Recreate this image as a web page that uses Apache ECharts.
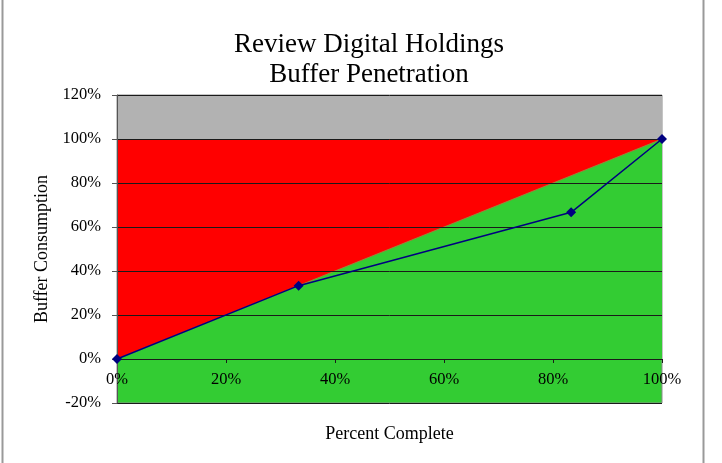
<!DOCTYPE html>
<html>
<head>
<meta charset="utf-8">
<script src="https://cdn.jsdelivr.net/npm/echarts@6/dist/echarts.min.js"></script>
<style>
  html, body { margin: 0; padding: 0; background: #fff; }
  #chart { width: 722px; height: 463px; }
</style>
</head>
<body>
<div id="chart"></div>
<script>
// data
const pctComplete = [0, 33.33, 83.33, 100];
const bufferUsed = [0, 33.33, 66.67, 100];
const diagX = [0, 100];
const diagY = [0, 100];
const capY = [100, 100];
const yTicks = [-20, 0, 20, 40, 60, 80, 100, 120];
const xTicks = [0, 20, 40, 60, 80, 100];

const serif = 'Liberation Serif';
const chart = echarts.init(document.getElementById('chart'));

const zip = (xs, ys) => xs.map((x, i) => [x, ys[i]]);

chart.setOption({
  animation: false,
  title: {
    text: 'Review Digital Holdings\nBuffer Penetration',
    left: 364, top: 25, textAlign: 'center',
    textStyle: { fontFamily: serif, fontSize: 27, fontWeight: 'normal', color: '#000', lineHeight: 30 }
  },
  grid: {
    left: 117, right: 60, top: 95, bottom: 60,
    containLabel: false, outerBoundsMode: 'none',
    show: true, backgroundColor: '#33cc33', borderColor: '#8c8c8c', borderWidth: 1
  },
  xAxis: {
    type: 'value', min: xTicks[0], max: xTicks[xTicks.length - 1], interval: 20,
    position: 'bottom', offset: -44,
    name: 'Percent Complete', nameLocation: 'middle', nameGap: 66,
    nameTextStyle: { fontFamily: serif, fontSize: 18, color: '#000' },
    axisLine: { onZero: false, lineStyle: { color: '#1a1a1a' } },
    axisTick: { show: true, length: 4, lineStyle: { color: '#1a1a1a' } },
    axisLabel: { formatter: '{value}%', margin: 12, fontFamily: serif, fontSize: 16.5, color: '#000' },
    splitLine: { show: false },
    z: 5
  },
  yAxis: {
    type: 'value', min: yTicks[0], max: yTicks[yTicks.length - 1], interval: 20,
    name: 'Buffer Consumption', nameLocation: 'middle', nameGap: 64,
    nameTextStyle: { fontFamily: serif, fontSize: 18, color: '#000' },
    axisLine: { show: true, lineStyle: { color: '#555' } },
    axisTick: { show: true, length: 5, lineStyle: { color: '#555' } },
    axisLabel: { formatter: '{value}%', margin: 16, fontFamily: serif, fontSize: 16.5, color: '#000' },
    splitLine: { show: true, lineStyle: { color: '#1a1a1a', width: 1 } },
    z: 5
  },
  graphic: [
    { type: 'line', shape: { x1: 2.5, y1: 0, x2: 2.5, y2: 463 }, style: { stroke: '#999', lineWidth: 2 } },
    { type: 'line', shape: { x1: 703.5, y1: 0, x2: 703.5, y2: 463 }, style: { stroke: '#999', lineWidth: 2 } }
  ],
  series: [
    {
      // red zone: from 0 up to 100%
      type: 'line', data: zip(diagX, capY), symbol: 'none', silent: true,
      lineStyle: { width: 0 }, areaStyle: { color: '#ff0000', opacity: 1 },
      z: 1,
      markArea: {
        silent: true,
        itemStyle: { color: '#b2b2b2' },
        data: [[{ yAxis: 100 }, { yAxis: 120 }]]
      }
    },
    {
      // green zone below the diagonal
      type: 'line', data: zip(diagX, diagY), symbol: 'none', silent: true,
      lineStyle: { width: 1, color: '#a0803a' }, areaStyle: { color: '#33cc33', opacity: 1 },
      z: 2
    },
    {
      type: 'line', data: zip(pctComplete, bufferUsed),
      symbol: 'diamond', symbolSize: 10,
      lineStyle: { color: '#000080', width: 1.5 },
      itemStyle: { color: '#000080' },
      z: 10
    }
  ]
});
</script>
</body>
</html>
